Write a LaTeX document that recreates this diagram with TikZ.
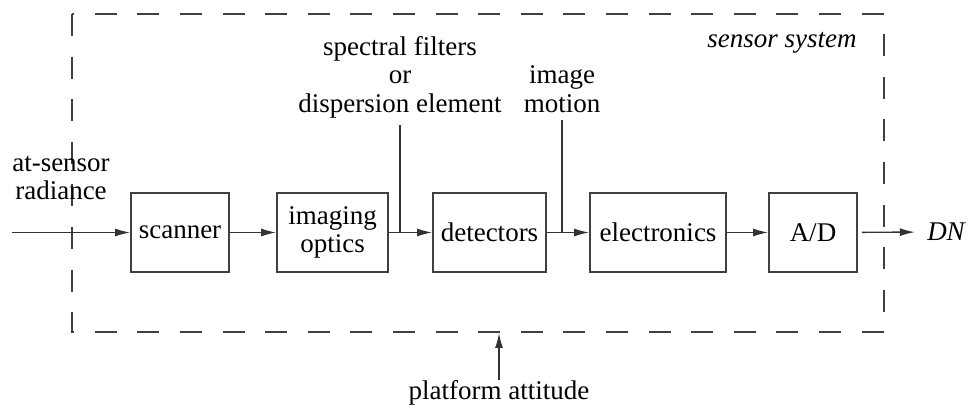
\documentclass[tikz,border=0pt]{standalone}
\usepackage{fontspec}
\setmainfont{Liberation Serif}
\usetikzlibrary{arrows.meta}
\tikzset{
  blk/.style={draw=black!75, line width=0.9pt, inner sep=0pt, minimum height=39.5pt, align=center},
  lbl/.style={inner sep=0pt, align=center},
  flow/.style={->, draw=black!80, line width=0.7pt},
}
\begin{document}
\begin{tikzpicture}[x=0.5pt, y=-0.5pt, >={Latex[length=7.5pt,width=4pt]},
    every node/.style={font=\fontsize{13.5}{14.2}\selectfont}]
  \useasboundingbox (0,0) rectangle (971,406);
  % sensor system frame
  \draw[black!75, line width=0.8pt, dash pattern=on 11pt off 10.3pt] (72,14) rectangle (884,332);
  \node[lbl, anchor=east] (sys) at (857,43) {\itshape sensor system};
  % blocks
  \node[blk, minimum width=49pt] (scan) at (180,232.5) {scanner};
  \node[blk, minimum width=55.5pt] (optics) at (332.5,232.5) {imaging\\optics};
  \node[blk, minimum width=56.5pt] (det) at (489.5,232.5) {detectors};
  \node[blk, minimum width=68pt] (elec) at (658,232.5) {electronics};
  \node[blk, minimum width=44pt] (ad) at (813,232.5) {A/D};
  % labels
  \node[lbl] (rad) at (61,178) {at-sensor\\radiance};
  \node[lbl] (filt) at (400,77) {spectral filters\\or\\dispersion element};
  \node[lbl] (motion) at (562,89) {image\\motion};
  \node[lbl] (dn) at (946,232) {\itshape DN};
  \node[lbl] (plat) at (499,393) {platform attitude};
  \coordinate (in) at (12,232.5);
  \coordinate (j1) at (400,232.5);
  \coordinate (j2) at (562,232.5);
  \coordinate (frame) at (499,333);
  % connectors
  \draw[flow] (in) -- (scan);
  \draw[flow] (scan) -- (optics);
  \draw[flow] (optics) -- (det);
  \draw[flow] (det) -- (elec);
  \draw[flow] (elec) -- (ad);
  \draw[flow, shorten <=2pt, shorten >=6pt] (ad) -- (dn);
  \draw[black!80, line width=0.7pt] (filt.south) ++(0,7) -- (j1);
  \draw[black!80, line width=0.7pt] (motion.south) ++(0,7) -- (j2);
  \draw[flow] (plat) -- (frame);
\end{tikzpicture}
\end{document}
